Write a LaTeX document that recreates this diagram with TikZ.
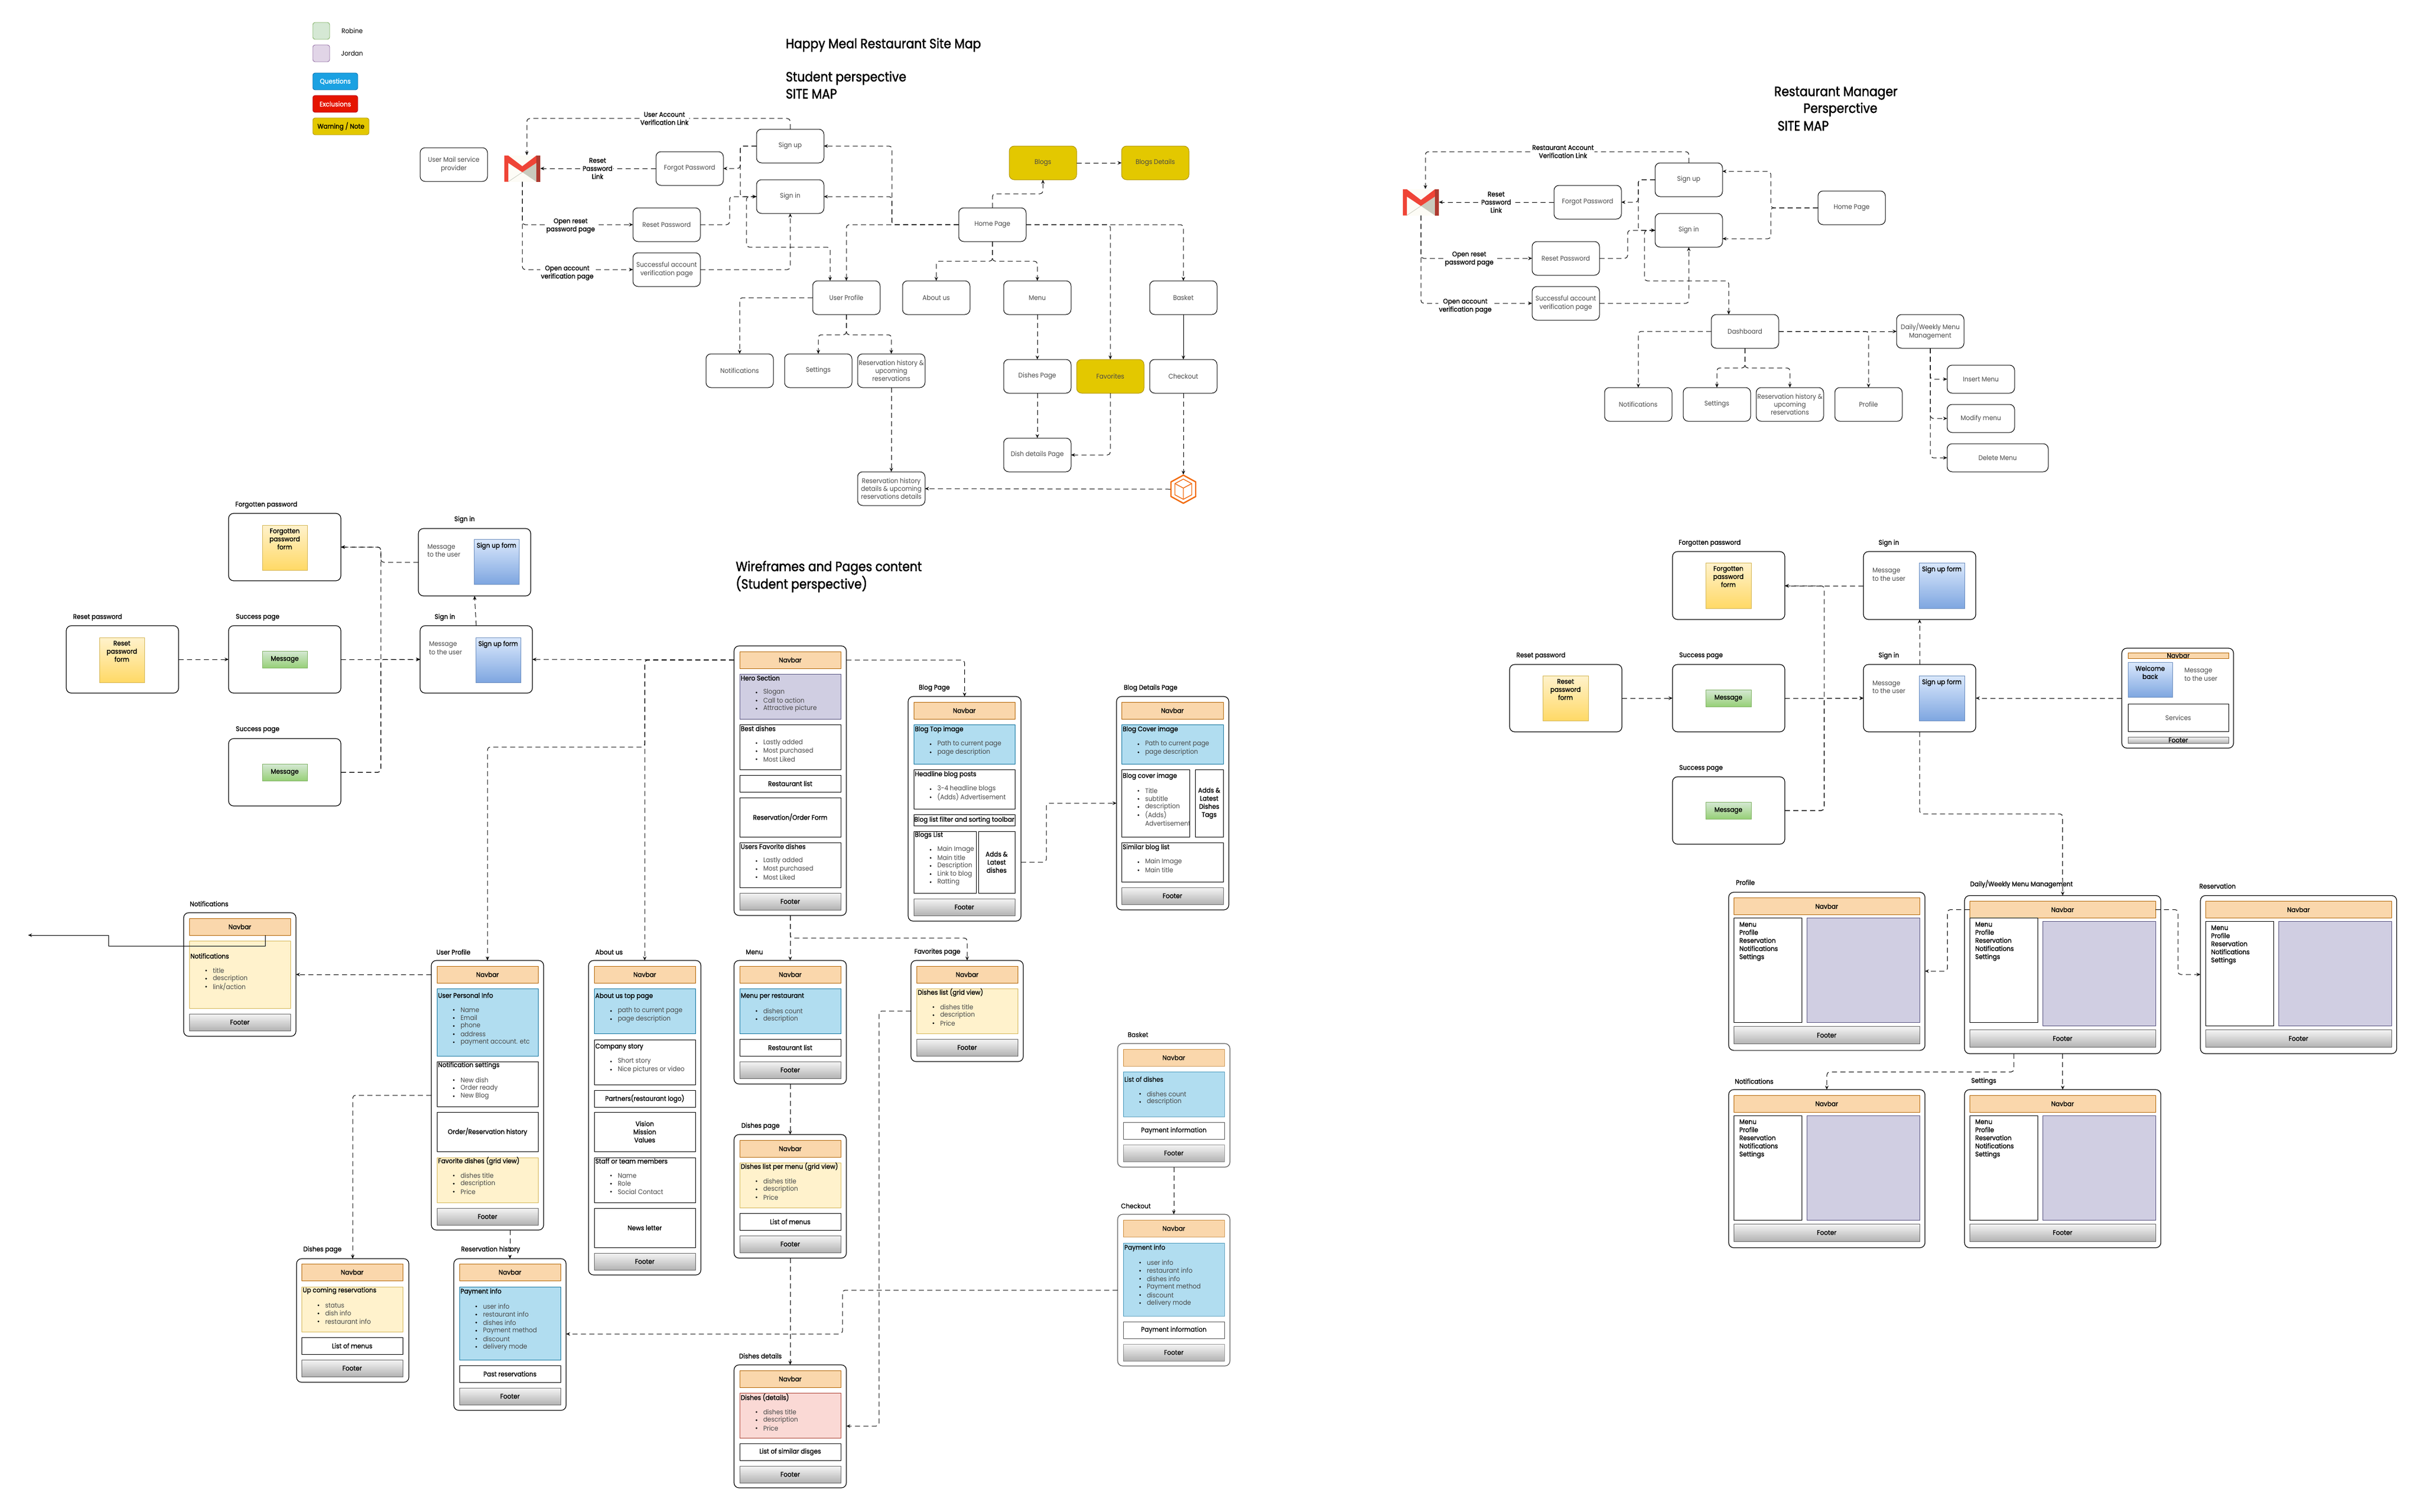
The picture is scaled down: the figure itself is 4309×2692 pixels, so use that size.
\documentclass[tikz,border=0pt]{standalone}
\usepackage{fontspec}
\setmainfont[FakeStretch=0.92]{Poppins}
\newfontfamily\strongfont[FakeStretch=0.92,FakeBold=1.2]{Poppins}
\newfontfamily\headfont[FakeStretch=0.89,FakeBold=1.6]{Poppins}
\usetikzlibrary{arrows.meta}
\definecolor{TextLight}{HTML}{484848}
\definecolor{NavFill}{HTML}{FAD7AC}
\definecolor{NavLine}{HTML}{B46504}
\definecolor{BlueFill}{HTML}{B1DDF0}
\definecolor{BlueLine}{HTML}{10739E}
\definecolor{NoteFill}{HTML}{FFF2CC}
\definecolor{NoteLine}{HTML}{D6B656}
\definecolor{NoteDeep}{HTML}{FFD966}
\definecolor{PurpFill}{HTML}{D0CEE2}
\definecolor{PurpLine}{HTML}{56517E}
\definecolor{PinkFill}{HTML}{FAD9D5}
\definecolor{PinkLine}{HTML}{AE4132}
\definecolor{FormTop}{HTML}{DAE8FC}
\definecolor{FormDeep}{HTML}{7EA6E0}
\definecolor{FormLine}{HTML}{6C8EBF}
\definecolor{MsgTop}{HTML}{D5E8D4}
\definecolor{MsgDeep}{HTML}{97D077}
\definecolor{MsgLine}{HTML}{82B366}
\definecolor{FootTop}{HTML}{F5F5F5}
\definecolor{FootDeep}{HTML}{B3B3B3}
\definecolor{FootLine}{HTML}{666666}
\definecolor{WarnFill}{HTML}{E3C800}
\definecolor{WarnLine}{HTML}{B09500}
\definecolor{AskFill}{HTML}{1BA1E2}
\definecolor{AskLine}{HTML}{006EAF}
\definecolor{StopFill}{HTML}{E51400}
\definecolor{StopLine}{HTML}{B20000}
\definecolor{JordanFill}{HTML}{E1D5E7}
\definecolor{JordanLine}{HTML}{9673A6}
\definecolor{MailRed}{HTML}{EF4436}
\definecolor{MailDark}{HTML}{AE3A30}
\definecolor{MailGray}{HTML}{C9CABD}
\definecolor{MailBack}{HTML}{FDFCF6}
\definecolor{CubeOrange}{HTML}{F26B0F}

\tikzset{
    txt/.style={font=\fontsize{12}{14.4}\selectfont, inner sep=0pt, outer sep=0pt},
    strongtxt/.style={font=\strongfont\fontsize{12}{14.4}\selectfont, inner sep=0pt, outer sep=0pt},
    pagebox/.style={txt, draw=black, line width=1pt, rounded corners=9pt, fill=white, text=TextLight,
        minimum width=120pt, minimum height=60pt, align=center},
    warnbox/.style={pagebox, fill=WarnFill, draw=WarnLine},
    legendbox/.style={strongtxt, line width=0.9pt, rounded corners=4pt, minimum height=30pt, align=center},
    titletxt/.style={font=\headfont\fontsize{24}{28.8}\selectfont, anchor=west, inner sep=0pt, text=black},
    arrowlbl/.style={strongtxt, fill=white, align=center, text=black, inner sep=1.5pt},
    link/.style={draw=black, line width=1pt, rounded corners=5pt, dash pattern=on 9pt off 6pt,
        -{Stealth[length=7pt,width=6pt]}},
    solidlink/.style={draw=black, line width=1pt, -{Stealth[length=7pt,width=6pt]}},
    % wireframe pieces
    wfedge/.style={anchor=north west, inner sep=0pt, outer sep=0pt, line width=1.2pt, draw=black, fill=white, rounded corners=9pt},
    wfcell/.style={anchor=north west, inner sep=0pt, outer sep=0pt, line width=0.9pt},
    navbar/.style={wfcell, fill=NavFill, draw=NavLine},
    footer/.style={wfcell, draw=FootLine, top color=FootTop, bottom color=FootDeep},
    plainbox/.style={wfcell, draw=black, fill=white},
    bluebox/.style={wfcell, draw=BlueLine, fill=BlueFill},
    notebox/.style={wfcell, draw=NoteLine, fill=NoteFill},
    purpbox/.style={wfcell, draw=PurpLine, fill=PurpFill},
    pinkbox/.style={wfcell, draw=PinkLine, fill=PinkFill},
    formblue/.style={wfcell, draw=FormLine, top color=FormTop, bottom color=FormDeep},
    formnote/.style={wfcell, draw=NoteLine, top color=NoteFill, bottom color=NoteDeep},
    formmsg/.style={wfcell, draw=MsgLine, top color=MsgTop, bottom color=MsgDeep},
    headtxt/.style={strongtxt, anchor=west, text=black},
    itemtxt/.style={txt, anchor=west, text=TextLight},
    celltxt/.style={strongtxt, align=center, text=black},
    wflabel/.style={strongtxt, anchor=west, text=black},
}

% frame: name, x, y, w, h, label, label x, label y
\newcommand{\wfframe}[8]{
    \node[wfedge, minimum width=#4, minimum height=#5] (#1) at (#2,#3) {};
    \node[wflabel] (#1-lbl) at (#7,#8) {#6};
}
% frame without a label
\newcommand{\wfbare}[5]{
    \node[wfedge, minimum width=#4, minimum height=#5] (#1) at (#2,#3) {};
}
% box with one centred text: name, style, x, y, w, h, text
\newcommand{\wfbar}[7]{
    \node[#2, minimum width=#5, minimum height=#6] (#1) at (#3,#4) {};
    \node[celltxt] (#1-t) at (#1.center) {#7};
}
% form box with text at its top
\newcommand{\wfform}[7]{
    \node[#2, minimum width=#5, minimum height=#6] (#1) at (#3,#4) {};
    \node[celltxt, anchor=north] (#1-t) at ([yshift=-6pt]#1.north) {#7};
}
% box with heading and bullets: name, style, x, y, w, h, heading offset, heading, items
\newcommand{\wflist}[9]{
    \node[#2, minimum width=#5, minimum height=#6] (#1) at (#3,#4) {};
    \node[headtxt] (#1-t) at (#3+2,#4+#7) {#8};
    \foreach \t [count=\i] in {#9} {
        \fill ({#3+30},{#4+#7+26+14.4*(\i-1)}) circle (1.6);
        \node[itemtxt] (#1-\i) at ({#3+42},{#4+#7+26+14.4*(\i-1)}) {\t};
    }
}
% manager page: name, x, y, label, label x, label y, shift of the left column
\newcommand{\wfadmin}[7]{
    \wfframe{#1}{#2}{#3}{349.5}{281.5}{#4}{#5}{#6}
    \wfbar{#1-nav}{navbar}{#2+9}{#3+10}{331}{30}{Navbar}
    \node[plainbox, minimum width=121, minimum height=186] (#1-col) at (#2+9,#3+46+#7) {};
    \node[purpbox, minimum width=201, minimum height=186] (#1-main) at (#2+139,#3+46) {};
    \node[strongtxt, anchor=north west, align=left, text=black] (#1-menu) at (#2+19,#3+53+#7) {Menu\\Profile\\Reservation\\Notifications\\Settings};
    \wfbar{#1-foot}{footer}{#2+9}{#3+239}{331}{31}{Footer}
}

\begin{document}
\begin{tikzpicture}[x=1pt, y=-1pt]

    \fill[white] (0,0) rectangle (4309,2692);
    \useasboundingbox (0,0) rectangle (4309,2692);

    % --- 1. Legend ---
    \node[legendbox, fill=MsgTop, draw=MsgLine, minimum width=30] (legendRobine) at (572,55) {};
    \node[txt, text=black] (legendRobineTxt) at (627,55) {Robine};
    \node[legendbox, fill=JordanFill, draw=JordanLine, minimum width=30] (legendJordan) at (572,95) {};
    \node[txt, text=black] (legendJordanTxt) at (627,95) {Jordan};
    \node[legendbox, fill=AskFill, draw=AskLine, text=white, minimum width=80] (legendAsk) at (597,145) {Questions};
    \node[legendbox, fill=StopFill, draw=StopLine, text=white, minimum width=80] (legendStop) at (597,185) {Exclusions};
    \node[legendbox, fill=WarnFill, draw=WarnLine, text=black, minimum width=100] (legendWarn) at (607,225) {Warning / Note};

    % --- 2. Titles ---
    \node[titletxt] (titleMain) at (1399,80) {Happy Meal Restaurant Site Map};
    \node[titletxt] (titleStudent) at (1399,139) {Student perspective};
    \node[titletxt] (titleStudentMap) at (1399,167) {SITE MAP};
    \node[titletxt] (titleManager) at (3159,166) {Restaurant Manager};
    \node[titletxt] (titleManagerB) at (3211,195) {Persperctive};
    \node[titletxt] (titleManagerMap) at (3165,224) {SITE MAP};
    \node[titletxt] (titleWire) at (1310,1011) {Wireframes and Pages content};
    \node[titletxt] (titleWireB) at (1310,1040) {(Student perspective)};

    % --- 3. Student site map ---
    \node[pagebox] (mailUser) at (808,293) {User Mail service\\provider};
    \node[inner sep=0pt, outer sep=0pt, fill=MailBack, minimum width=64, minimum height=47] (gmail) at (930,300) {};
    \fill[MailGray] (930,306.7) -- (955,290) -- (955,323.5) -- cycle;
    \draw[MailGray, line width=0.8pt] (905,323.5) -- (930,306.7);
    \fill[MailRed] (898,277) -- (905,277) -- (930,296) -- (955,277) -- (955,290) -- (930,306.7) -- (905,290) -- (905,323.5) -- (898,323.5) -- cycle;
    \fill[MailDark] (955,277) -- (962,277) -- (962,323.5) -- (955,323.5) -- cycle;
    \node[pagebox] (signup) at (1407,260) {Sign up};
    \node[pagebox] (forgot) at (1228,300) {Forgot Password};
    \node[pagebox] (signin) at (1407,350) {Sign in};
    \node[pagebox] (resetpw) at (1187,400) {Reset Password};
    \node[pagebox] (success) at (1187,480) {Successful account\\verification page};
    \node[warnbox] (blogs) at (1857,290) {Blogs};
    \node[warnbox] (blogDetail) at (2057,290) {Blogs Details};
    \node[pagebox] (home) at (1767,400) {Home Page};
    \node[pagebox] (profile) at (1507,530) {User Profile};
    \node[pagebox] (about) at (1667,530) {About us};
    \node[pagebox] (menu) at (1847,530) {Menu};
    \node[pagebox] (basket) at (2107,530) {Basket};
    \node[pagebox] (notif) at (1317,660) {Notifications};
    \node[pagebox] (settings) at (1457,660) {Settings};
    \node[pagebox] (resHist) at (1587,660) {Reservation history \&\\upcoming\\reservations};
    \node[pagebox] (dishes) at (1847,670) {Dishes Page};
    \node[warnbox] (favorites) at (1977,670) {Favorites};
    \node[pagebox] (checkout) at (2107,670) {Checkout};
    \node[pagebox] (dishDetail) at (1847,810) {Dish details Page};
    \node[pagebox] (resDetail) at (1587,870) {Reservation history\\details \& upcoming\\reservations details};
    \node[inner sep=0pt, outer sep=0pt, minimum width=46, minimum height=52] (cube) at (2107,871) {};
    \draw[CubeOrange, line width=2.4pt, line join=round] (2107,846) -- (2129,858) -- (2129,884) -- (2107,896) -- (2085,884) -- (2085,858) -- cycle;
    \draw[CubeOrange, line width=1.4pt, line join=round] (2107,853) -- (2122,861) -- (2122,881) -- (2107,889) -- (2092,881) -- (2092,861) -- cycle;
    \draw[CubeOrange, line width=1.4pt, line join=round] (2092,861) -- (2107,869) -- (2122,861) (2107,869) -- (2107,889);

    \draw[link] (signup.north) |- (938,211) -- ([xshift=8pt]gmail.north);
    \draw[link] (forgot.west) -- (gmail.east);
    \draw[link] (signup.west) -| (1318,300) -- (forgot.east);
    \draw[link] (signup.west) -| (1318,350) -- (signin.west);
    \draw[link] (resetpw.east) -| (1299,350) -- (signin.west);
    \draw[link] (signin.west) -| (1329,440) -| ([xshift=-29pt]profile.north);
    \draw[link] (success.east) -| (signin.south);
    \draw[link] (gmail.south) |- (resetpw.west);
    \draw[link] (gmail.south) |- (success.west);
    \draw[link] (home.west) -| (profile.north);
    \draw[link] (home.west) -| (1588,260) -- (signup.east);
    \draw[link] (home.west) -| (1588,350) -- (signin.east);
    \draw[link] (home.north) |- (1857,345) -- (blogs.south);
    \draw[link] (blogs.east) -- (blogDetail.west);
    \draw[link] (home.south) |- (1667,465) -- (about.north);
    \draw[link] (home.south) |- (1847,465) -- (menu.north);
    \draw[link] (home.east) -| (basket.north);
    \draw[link] (home.east) -| (favorites.north);
    \draw[solidlink] (basket.south) -- (checkout.north);
    \draw[link] (checkout.south) -- (cube.north);
    \draw[link] (cube.west) -- (resDetail.east);
    \draw[link] (menu.south) -- (dishes.north);
    \draw[link] (dishes.south) -- (dishDetail.north);
    \draw[link] (favorites.south) |- (dishDetail.east);
    \draw[link] (profile.west) -| (notif.north);
    \draw[link] (profile.south) |- (1457,596) -- (settings.north);
    \draw[link] (profile.south) |- (1587,596) -- (resHist.north);
    \draw[link] (resHist.south) -- (resDetail.north);

    \node[arrowlbl] (lblVerify) at (1183,211) {User Account\\Verification Link};
    \node[arrowlbl] (lblReset) at (1064,300) {Reset\\Password\\Link};
    \node[arrowlbl] (lblOpenReset) at (1016,402) {Open reset\\password page};
    \node[arrowlbl] (lblOpenAcc) at (1010,486) {Open account\\verification page};

    % --- 4. Manager site map ---
    \node[inner sep=0pt, outer sep=0pt, fill=MailBack, minimum width=64, minimum height=47] (mGmail) at (2530,360) {};
    \fill[MailGray] (2530,366.7) -- (2555,350) -- (2555,383.5) -- cycle;
    \draw[MailGray, line width=0.8pt] (2505,383.5) -- (2530,366.7);
    \fill[MailRed] (2498,337) -- (2505,337) -- (2530,356) -- (2555,337) -- (2555,350) -- (2530,366.7) -- (2505,350) -- (2505,383.5) -- (2498,383.5) -- cycle;
    \fill[MailDark] (2555,337) -- (2562,337) -- (2562,383.5) -- (2555,383.5) -- cycle;
    \node[pagebox] (mSignup) at (3007,320) {Sign up};
    \node[pagebox] (mForgot) at (2827,360) {Forgot Password};
    \node[pagebox] (mSignin) at (3007,410) {Sign in};
    \node[pagebox] (mHome) at (3297,370) {Home Page};
    \node[pagebox] (mReset) at (2788,460) {Reset Password};
    \node[pagebox] (mSuccess) at (2788,540) {Successful account\\verification page};
    \node[pagebox] (mDash) at (3107,590) {Dashboard};
    \node[pagebox] (mDaily) at (3437,590) {Daily/Weekly Menu\\Management};
    \node[pagebox] (mNotif) at (2917,720) {Notifications};
    \node[pagebox] (mSettings) at (3057,720) {Settings};
    \node[pagebox] (mResHist) at (3187,720) {Reservation history \&\\upcoming\\reservations};
    \node[pagebox] (mProfile) at (3327,720) {Profile};
    \node[pagebox, minimum height=50] (mInsert) at (3527,675) {Insert Menu};
    \node[pagebox, minimum height=50] (mModify) at (3527,745) {Modify menu};
    \node[pagebox, minimum width=180, minimum height=50] (mDelete) at (3557,815) {Delete Menu};

    \draw[link] (mSignup.north) |- (2538,270) -- ([xshift=8pt]mGmail.north);
    \draw[link] (mForgot.west) -- (mGmail.east);
    \draw[link] (mSignup.west) -| (2917,360) -- (mForgot.east);
    \draw[link] (mSignup.west) -| (2917,410) -- (mSignin.west);
    \draw[link] (mReset.east) -| (2898,410) -- (mSignin.west);
    \draw[link] (mSignin.west) -| (2928,500) -| ([xshift=-29pt]mDash.north);
    \draw[link] (mSuccess.east) -| (mSignin.south);
    \draw[link] (mGmail.south) |- (mReset.west);
    \draw[link] (mGmail.south) |- (mSuccess.west);
    \draw[link] (mHome.west) -| (3153,305) -- ([yshift=15pt]mSignup.east);
    \draw[link] (mHome.west) -| (3153,425) -- ([yshift=-15pt]mSignin.east);
    \draw[link] (mDash.west) -| (mNotif.north);
    \draw[link] (mDash.south) |- (3057,655) -- (mSettings.north);
    \draw[link] (mDash.south) |- (3187,655) -- (mResHist.north);
    \draw[link] (mDash.east) -- (mDaily.west);
    \draw[link] (mDash.east) -| (mProfile.north);
    \draw[link] (mDaily.south) |- (mInsert.west);
    \draw[link] (mDaily.south) |- (mModify.west);
    \draw[link] (mDaily.south) |- (mDelete.west);

    \node[arrowlbl] (mLblVerify) at (2783,270) {Restaurant Account\\Verification Link};
    \node[arrowlbl] (mLblReset) at (2664,360) {Reset\\Password\\Link};
    \node[arrowlbl] (mLblOpenReset) at (2616,461) {Open reset\\password page};
    \node[arrowlbl] (mLblOpenAcc) at (2609,545) {Open account\\verification page};

    % --- 5. Student wireframes: login pages ---
    \wfframe{wfForgot}{407}{914}{200}{120}{Forgotten password}{419}{899}
    \wfform{wfForgotForm}{formnote}{467}{935}{80}{80}{Forgotten\\password\\form}
    \wfframe{wfLogin}{745}{941}{200}{120}{Sign in}{809}{925}
    \wfform{wfLoginForm}{formblue}{844}{960}{80}{80}{Sign up form}
    \node[itemtxt, align=left] (wfLoginMsg) at (761,980.5) {Message\\to the user};
    \wfframe{wfReset}{118}{1114}{200}{120}{Reset password}{130}{1099}
    \wfform{wfResetForm}{formnote}{177}{1135}{80}{80}{Reset\\password\\form}
    \wfframe{wfDone}{407}{1114}{200}{120}{Success page}{420}{1099}
    \wfbar{wfDoneMsg}{formmsg}{467}{1159}{80}{30}{Message}
    \wfframe{wfLoginB}{748}{1114}{200}{120}{Sign in}{774}{1099}
    \wfform{wfLoginBForm}{formblue}{847}{1135}{80}{80}{Sign up form}
    \node[itemtxt, align=left] (wfLoginBMsg) at (764,1154) {Message\\to the user};
    \wfframe{wfDoneB}{407}{1315}{200}{120}{Success page}{420}{1299}
    \wfbar{wfDoneBMsg}{formmsg}{467}{1360}{80}{30}{Message}

    % --- 6. Student wireframes: pages ---
    \wfbare{wfHome}{1307}{1150}{200}{480}
    \wfbar{wfHomeNav}{navbar}{1317}{1160}{180}{30}{Navbar}
    \wflist{wfHero}{purpbox}{1317}{1200}{180}{80}{7}{Hero Section}{Slogan,Call to action,Attractive picture}
    \wflist{wfBest}{plainbox}{1317}{1290}{180}{80}{7}{Best dishes}{Lastly added,Most purchased,Most Liked}
    \wfbar{wfHomeList}{plainbox}{1317}{1380}{180}{30}{Restaurant list}
    \wfbar{wfOrder}{plainbox}{1317}{1420}{180}{70}{Reservation/Order Form}
    \wflist{wfFav}{plainbox}{1317}{1500}{180}{80}{7}{Users Favorite dishes}{Lastly added,Most purchased,Most Liked}
    \wfbar{wfHomeFoot}{footer}{1317}{1590}{180}{30}{Footer}

    \wfframe{wfBlog}{1617}{1240}{201}{400}{Blog Page}{1636}{1225}
    \wfbar{wfBlogNav}{navbar}{1627}{1250}{180}{30}{Navbar}
    \wflist{wfBlogTop}{bluebox}{1627}{1290}{180}{70}{9}{Blog Top image}{Path to current page,page description}
    \wflist{wfHeadline}{plainbox}{1627}{1370}{180}{70}{9}{Headline blog posts}{3-4 headline blogs,{(Adds) Advertisement}}
    \wfbar{wfFilter}{plainbox}{1627}{1450}{180}{20}{Blog list filter and sorting toolbar}
    \wflist{wfBlogList}{plainbox}{1627}{1480}{111}{110}{7}{Blogs List}{Main Image,Main title,Description,Link to blog,Ratting}
    \wfbar{wfBlogAds}{plainbox}{1742}{1480}{65}{110}{Adds \&\\Latest\\dishes}
    \wfbar{wfBlogFoot}{footer}{1627}{1600}{180}{30}{Footer}

    \wfframe{wfPost}{1988}{1240}{200}{380}{Blog Details Page}{2001}{1225}
    \wfbar{wfPostNav}{navbar}{1997}{1250}{181}{30}{Navbar}
    \wflist{wfPostTop}{bluebox}{1997}{1290}{181}{70}{9}{Blog Cover image}{Path to current page,page description}
    \wflist{wfPostBody}{plainbox}{1997}{1370}{121}{120}{12}{Blog cover image}{Title,subtitle,description,{(Adds)}}
    \node[itemtxt] (wfPostBodyMore) at (2039,1466) {Advertisement};
    \wfbar{wfPostAds}{plainbox}{2128}{1370}{50}{120}{Adds \&\\Latest\\Dishes\\Tags}
    \wflist{wfSimilar}{plainbox}{1997}{1500}{181}{70}{9}{Similar blog list}{Main Image,Main title}
    \wfbar{wfPostFoot}{footer}{1997}{1580}{181}{30}{Footer}

    \wfframe{wfNotif}{327}{1625}{200}{220}{Notifications}{338}{1609}
    \wflist{wfNotifBody}{notebox}{337}{1675}{180}{120}{27}{Notifications}{title,description,link/action}
    \wfbar{wfNotifNav}{navbar}{337}{1635}{180}{30}{Navbar}
    \wfbar{wfNotifFoot}{footer}{337}{1805}{180}{30}{Footer}

    \wfframe{wfUser}{768}{1710}{200}{480}{User Profile}{777}{1695}
    \wfbar{wfUserNav}{navbar}{778}{1720}{180}{30}{Navbar}
    \wflist{wfUserInfo}{bluebox}{778}{1760}{180}{120}{12}{User Personal Info}{Name,Email,phone,address,payment account. etc}
    \wflist{wfUserSet}{plainbox}{778}{1890}{180}{80}{7}{Notification settings}{New dish,Order ready,New Blog}
    \wfbar{wfUserHist}{plainbox}{778}{1980}{180}{70}{Order/Reservation history}
    \wflist{wfUserFav}{notebox}{778}{2061}{180}{80}{6}{Favorite dishes (grid view)}{dishes title,description,Price}
    \wfbar{wfUserFoot}{footer}{778}{2151}{180}{30}{Footer}

    \wfframe{wfAbout}{1048}{1710}{200}{560}{About us}{1060}{1695}
    \wfbar{wfAboutNav}{navbar}{1058}{1720}{180}{30}{Navbar}
    \wflist{wfAboutTop}{bluebox}{1058}{1760}{180}{80}{14}{About us top page}{path to current page,page description}
    \wflist{wfStory}{plainbox}{1058}{1851}{180}{80}{13}{Company story}{Short story,Nice pictures or video}
    \wfbar{wfPartners}{plainbox}{1058}{1941}{180}{30}{Partners(restaurant logo)}
    \wfbar{wfVision}{plainbox}{1058}{1980}{180}{70}{Vision\\Mission\\Values}
    \wflist{wfStaff}{plainbox}{1058}{2061}{180}{80}{6}{Staff or team members}{Name,Role,Social Contact}
    \wfbar{wfNews}{plainbox}{1058}{2151}{180}{70}{News letter}
    \wfbar{wfAboutFoot}{footer}{1058}{2231}{180}{30}{Footer}

    \wfframe{wfMenu}{1307}{1710}{200}{220}{Menu}{1328}{1695}
    \wfbar{wfMenuNav}{navbar}{1317}{1720}{180}{30}{Navbar}
    \wflist{wfMenuTop}{bluebox}{1317}{1760}{180}{80}{14}{Menu per restaurant}{dishes count,description}
    \wfbar{wfMenuList}{plainbox}{1317}{1850}{180}{30}{Restaurant list}
    \wfbar{wfMenuFoot}{footer}{1317}{1890}{180}{30}{Footer}

    \wfframe{wfFavPage}{1622}{1710}{200}{180}{Favorites page}{1628}{1695}
    \wfbar{wfFavNav}{navbar}{1632}{1720}{180}{30}{Navbar}
    \wflist{wfFavList}{notebox}{1632}{1760}{180}{80}{7}{Dishes list (grid view)}{dishes title,description,Price}
    \wfbar{wfFavFoot}{footer}{1632}{1850}{180}{30}{Footer}

    \wfframe{wfDishes}{1307}{2020}{200}{220}{Dishes page}{1320}{2005}
    \wfbar{wfDishesNav}{navbar}{1317}{2030}{180}{30}{Navbar}
    \wflist{wfDishesList}{notebox}{1317}{2070}{180}{80}{7}{Dishes list per menu (grid view)}{dishes title,description,Price}
    \wfbar{wfDishesMenus}{plainbox}{1317}{2160}{180}{30}{List of menus}
    \wfbar{wfDishesFoot}{footer}{1317}{2200}{180}{30}{Footer}

    \wfframe{wfDetail}{1307}{2430}{200}{219}{Dishes details}{1316}{2414}
    \wfbar{wfDetailNav}{navbar}{1317}{2440}{180}{30}{Navbar}
    \wflist{wfDetailBody}{pinkbox}{1317}{2480}{180}{80}{8}{Dishes (details)}{dishes title,description,Price}
    \wfbar{wfDetailList}{plainbox}{1317}{2570}{180}{30}{List of similar disges}
    \wfbar{wfDetailFoot}{footer}{1317}{2610}{180}{30}{Footer}

    \wfframe{wfUpcoming}{528}{2241}{200}{220}{Dishes page}{540}{2225}
    \wfbar{wfUpcomingNav}{navbar}{537}{2250}{180}{30}{Navbar}
    \wflist{wfUpcomingList}{notebox}{537}{2291}{180}{80}{7}{Up coming reservations}{status,dish info,restaurant info}
    \wfbar{wfUpcomingMenus}{plainbox}{537}{2381}{180}{30}{List of menus}
    \wfbar{wfUpcomingFoot}{footer}{537}{2421}{180}{30}{Footer}

    \wfframe{wfPast}{808}{2241}{200}{270}{Reservation history}{821}{2225}
    \wfbar{wfPastNav}{navbar}{818}{2250}{180}{30}{Navbar}
    \wflist{wfPastPay}{bluebox}{818}{2291}{180}{130}{9}{Payment info}{user info,restaurant info,dishes info,Payment method,discount,delivery mode}
    \wfbar{wfPastList}{plainbox}{818}{2431}{180}{30}{Past reservations}
    \wfbar{wfPastFoot}{footer}{818}{2471}{180}{30}{Footer}

    \begin{scope}[draw opacity=0.65]
        \wfframe{wfBasket}{1990}{1858}{200}{220}{Basket}{2008}{1842}
        \wfbar{wfBasketNav}{navbar}{2000}{1868}{180}{30}{Navbar}
        \wflist{wfBasketList}{bluebox}{2000}{1908}{180}{80}{13.5}{List of dishes}{dishes count,description}
        \wfbar{wfBasketPay}{plainbox}{2000}{1998}{180}{30}{Payment information}
        \wfbar{wfBasketFoot}{footer}{2000}{2038}{180}{30}{Footer}

        \wfframe{wfCheck}{1990}{2162}{200}{270}{Checkout}{1996}{2147}
        \wfbar{wfCheckNav}{navbar}{2000}{2172}{180}{30}{Navbar}
        \wflist{wfCheckPay}{bluebox}{2000}{2213}{180}{130}{9}{Payment info}{user info,restaurant info,dishes info,Payment method,discount,delivery mode}
        \wfbar{wfCheckList}{plainbox}{2000}{2353}{180}{30}{Payment information}
        \wfbar{wfCheckFoot}{footer}{2000}{2393}{180}{30}{Footer}
    \end{scope}

    \coordinate (wfStray) at (50,1665);
    \draw[link] (wfReset.east) -- (wfDone.west);
    \draw[link] (wfDone.east) -- (wfLoginB.west);
    \draw[link] (wfLoginB.north) -- (wfLogin.south);
    \draw[link] (wfLogin.west) -| (678,974) -- (wfForgot.east |- 0,974);
    \draw[link] (wfDoneB.east) -| (678,974) -- (wfForgot.east |- 0,974);
    \draw[link] (wfDoneB.east) -| (678,1174) -- (wfLoginB.west);
    \draw[link] (wfHome.west |- wfHomeNav.west) -- (wfLoginB.east);
    \draw[link] (wfHome.west |- wfHomeNav.west) -| (wfAbout.north);
    \draw[link] (wfHome.west |- wfHomeNav.west) -| (1148,1330) -| (wfUser.north);
    \draw[link] (wfHome.east |- wfHomeNav.east) -| (wfBlog.north);
    \draw[link] (wfBlog.east |- 0,1535) -| (1863,1430) -- (wfPost.west |- 0,1430);
    \draw[link] (wfHome.south) -- (wfMenu.north);
    \draw[link] (wfHome.south) |- (1722,1670) -- (wfFavPage.north);
    \draw[link] (wfMenu.south) -- (wfDishes.north);
    \draw[link] (wfDishes.south) -- (wfDetail.north);
    \draw[link] (wfFavPage.west |- 0,1800) -| (1565,2539) -- (wfDetail.east |- 0,2539);
    \draw[link] (wfBasket.south) -- (wfCheck.north);
    \draw[link] (wfCheck.west |- 0,2297) -| (1500,2375) -- (wfPast.east |- 0,2375);
    \draw[link] (wfUser.west |- 0,1735) -- (wfNotif.east |- 0,1735);
    \draw[link] (wfUser.west |- 0,1950) -| (wfUpcoming.north);
    \draw[link] ([xshift=40pt]wfUser.south) -- (wfPast.north);
    \draw[solidlink] ([xshift=45pt]wfNotifNav.south) |- (193,1684.5) |- (wfStray);

    % --- 7. Manager wireframes ---
    \wfframe{mwForgot}{2978}{982}{200}{121}{Forgotten password}{2989}{967}
    \wfform{mwForgotForm}{formnote}{3037}{1002}{81}{81}{Forgotten\\password\\form}
    \wfframe{mwLogin}{3318}{982}{200}{121}{Sign in}{3345}{967}
    \wfform{mwLoginForm}{formblue}{3417}{1002}{81}{81}{Sign up form}
    \node[itemtxt, align=left] (mwLoginMsg) at (3334,1023) {Message\\to the user};
    \wfframe{mwReset}{2688}{1183}{200}{120}{Reset password}{2700}{1167.5}
    \wfform{mwResetForm}{formnote}{2747}{1203}{81}{80}{Reset\\password\\form}
    \wfframe{mwDone}{2978}{1183}{200}{120}{Success page}{2990}{1167.5}
    \wfbar{mwDoneMsg}{formmsg}{3037}{1228}{81}{30}{Message}
    \wfframe{mwLoginB}{3318}{1183}{200}{120}{Sign in}{3345}{1167.5}
    \wfform{mwLoginBForm}{formblue}{3417}{1203}{81}{80}{Sign up form}
    \node[itemtxt, align=left] (mwLoginBMsg) at (3334,1223.5) {Message\\to the user};
    \wfframe{mwDoneB}{2978}{1383}{200}{120}{Success page}{2990}{1368}
    \wfbar{mwDoneBMsg}{formmsg}{3037}{1428}{81}{30}{Message}

    \wfbare{mwHome}{3778}{1154}{199}{178}
    \wfbar{mwHomeNav}{navbar}{3789}{1162}{179}{10}{Navbar}
    \wfform{mwWelcome}{formblue}{3789}{1179.5}{79}{62}{Welcome\\back}
    \node[itemtxt, align=left] (mwHomeMsg) at (3889.5,1201) {Message\\to the user};
    \node[plainbox, minimum width=179, minimum height=49] (mwServices) at (3789,1253) {};
    \node[itemtxt, anchor=center] (mwServices-t) at (mwServices.center) {Services};
    \wfbar{mwHomeFoot}{footer}{3789}{1312}{179}{11.5}{Footer}

    \wfadmin{mwProfile}{3078}{1588.6}{Profile}{3091}{1571}{0}
    \wfadmin{mwDaily}{3498}{1594.5}{Daily/Weekly Menu Management}{3508}{1574}{-6}
    \wfadmin{mwResv}{3918}{1594.5}{Reservation}{3916}{1577.5}{0}
    \wfadmin{mwNotif}{3078}{1940}{Notifications}{3089}{1925}{0}
    \wfadmin{mwSettings}{3498}{1940}{Settings}{3510}{1925}{0}

    \draw[link] (mwReset.east) -- (mwDone.west);
    \draw[link] (mwDone.east) -- (mwLoginB.west);
    \draw[link] (mwLogin.west |- 0,1043) -- (mwForgot.east |- 0,1043);
    \draw[link] (mwDoneB.east) -| (3248,1043) -- (mwForgot.east |- 0,1043);
    \draw[link] (mwDoneB.east) -| (3248,1243) -- (mwLoginB.west);
    \draw[link] (mwLoginB.north) -- (mwLogin.south);
    \draw[link] (mwHome.west |- mwLoginB.east) -- (mwLoginB.east);
    \draw[link] (mwLoginB.south) |- (3672.5,1449) -- (mwDaily.north);
    \draw[link] (mwDaily-nav.west) -| (3467.6,1729) -- (mwProfile.east |- 0,1729);
    \draw[link] (mwDaily-nav.east) -| (3878,1735) -- (mwResv.west |- 0,1735);
    \draw[link] ([xshift=-87pt]mwDaily.south) |- (3253,1908.5) -- (mwNotif.north);
    \draw[link] (mwDaily.south) -- (mwSettings.north);

\end{tikzpicture}
\end{document}
